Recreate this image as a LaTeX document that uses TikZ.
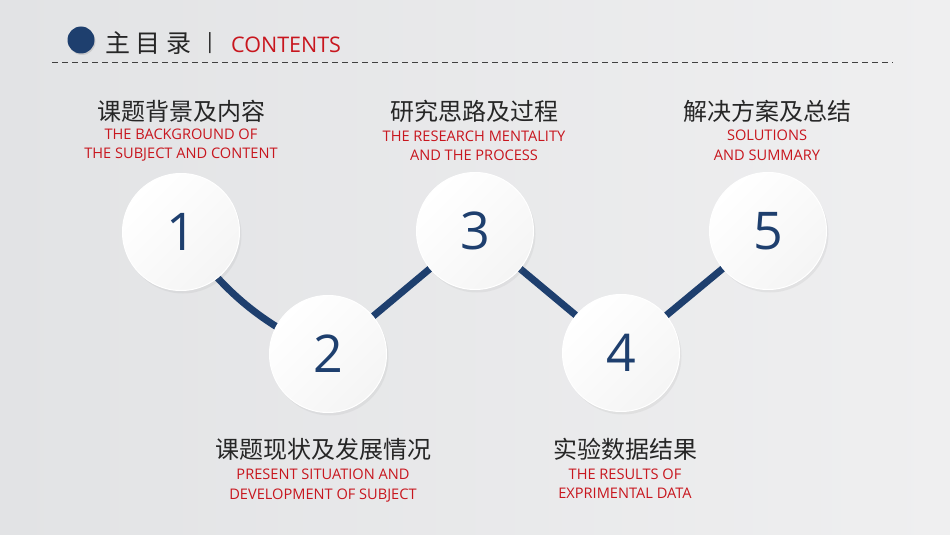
\documentclass[tikz,border=0pt]{standalone}
\usepackage{fontspec}
\setmainfont{Open Sans}
\newfontfamily\cjk{Noto Sans CJK SC}
\usetikzlibrary{shadows}
\definecolor{navy}{HTML}{1E3F6E}
\definecolor{redtxt}{HTML}{C8161E}
\definecolor{bgleft}{HTML}{E2E3E5}
\definecolor{bgright}{HTML}{EFEFF0}
\pgfdeclarelayer{back}
\pgfdeclarelayer{wire}
\pgfsetlayers{back,wire,main}
\newcommand{\topic}[6]{
  \node[cn] (#1cn) at (#2,#3) {#5};
  \node[en] (#1en) at (#2,#4) {#6};
}
\tikzset{
  ball/.style = {circle, inner sep=0pt, minimum size=117pt,
                 draw=white, line width=1pt,
                 top color=white, bottom color=black!4, shading angle=45,
                 drop shadow={opacity=0.1, shadow xshift=2pt, shadow yshift=-3pt},
                 text=navy, font=\fontsize{52}{52}\selectfont},
  cn/.style   = {inner sep=0pt, text=black!85, font=\cjk\fontsize{24}{24}\selectfont},
  en/.style   = {inner sep=0pt, align=center, text=redtxt,
                 font=\fontsize{14.6}{19.5}\selectfont},
  link/.style = {draw=navy, line width=7pt}
}

\begin{document}
\begin{tikzpicture}[x=1pt,y=-1pt]
  \begin{pgfonlayer}{back}
    \fill[left color=bgleft, right color=bgright] (0,0) rectangle (950,535);
  \end{pgfonlayer}
  \useasboundingbox (0,0) rectangle (950,535);
  \node[circle, fill=navy, minimum size=27pt, inner sep=0pt,
        drop shadow={opacity=0.25, shadow xshift=1pt, shadow yshift=-1.5pt}] (dot) at (81,40) {};
  \node[anchor=west, cn, font=\cjk\fontsize{25}{25}\selectfont] (title) at (105,43)
    {主\hspace{5.5pt}目\hspace{5.5pt}录};
  \node[inner sep=0pt, font=\fontsize{21}{21}\selectfont, text=black!85] (bar) at (210,43) {|};
  \node[anchor=west, inner sep=0pt, text=redtxt, font=\fontsize{21.5}{21.5}\selectfont] (contents) at (231,45) {CONTENTS};
  \coordinate (ruleL) at (52,63);
  \coordinate (ruleR) at (893,63);
  \draw[black!75, line width=1pt, dash pattern=on 6pt off 4pt] (ruleL) -- (ruleR);

  \node[ball] (n1) at (181,232) {1};
  \node[ball] (n2) at (328,354) {2};
  \node[ball] (n3) at (475,231) {3};
  \node[ball] (n4) at (621,353) {4};
  \node[ball] (n5) at (768,231) {5};
  \begin{pgfonlayer}{wire}
    \draw[link] (n1.center) to[bend right=15] (n2.center);
    \draw[link] (n2.center) -- (n3.center);
    \draw[link] (n3.center) -- (n4.center);
    \draw[link] (n4.center) -- (n5.center);
  \end{pgfonlayer}

  \topic{one}{181}{111}{145}{课题背景及内容}{THE BACKGROUND OF\\THE SUBJECT AND CONTENT}
  \topic{two}{323}{449}{485.5}{课题现状及发展情况}{PRESENT SITUATION AND\\DEVELOPMENT OF SUBJECT}
  \topic{three}{474}{111}{146}{研究思路及过程}{THE RESEARCH MENTALITY\\AND THE PROCESS}
  \topic{four}{625}{449}{483.5}{实验数据结果}{THE RESULTS OF\\EXPRIMENTAL DATA}
  \topic{five}{767}{111}{145.5}{解决方案及总结}{SOLUTIONS\\AND SUMMARY}
\end{tikzpicture}
\end{document}
